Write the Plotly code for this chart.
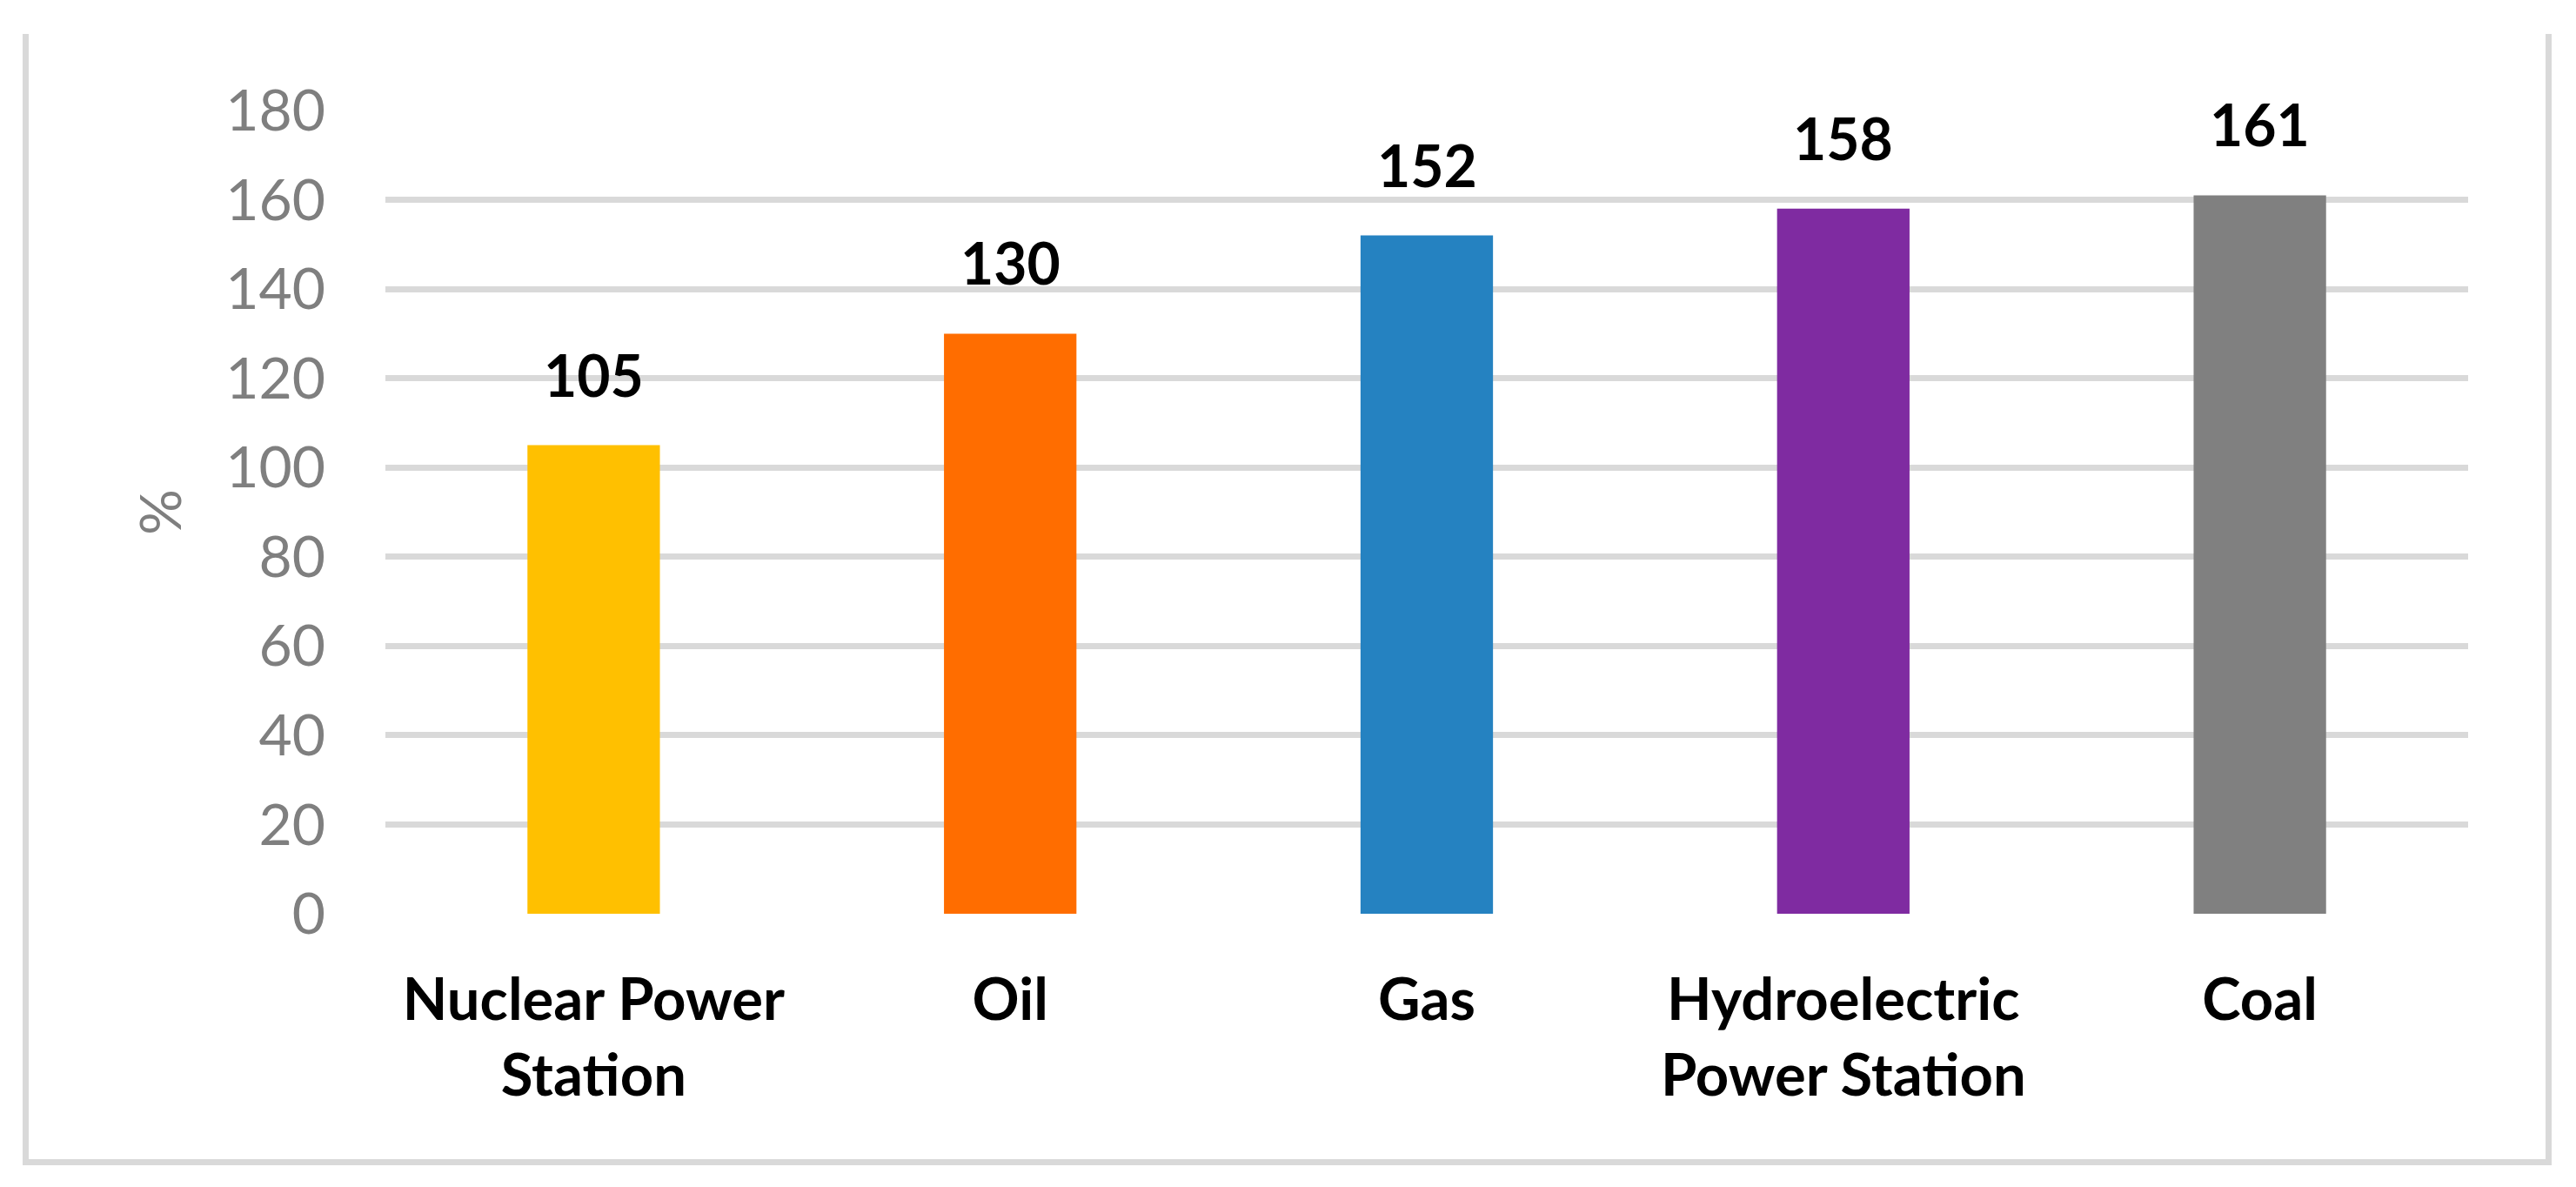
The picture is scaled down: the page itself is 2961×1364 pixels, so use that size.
import plotly.graph_objects as go

categories = ["Nuclear Power Station", "Oil", "Gas", "Hydroelectric Power Station", "Coal"]
tick_labels = ["Nuclear Power<br>Station", "Oil", "Gas", "Hydroelectric<br>Power Station", "Coal"]
values = [105, 130, 152, 158, 161]
bar_colors = ["#FFC000", "#FF6D00", "#2582C1", "#7F2BA1", "#808080"]
y_ticks = [0, 20, 40, 60, 80, 100, 120, 140, 160, 180]

W, H = 2961, 1364
L, R, T, B = 443, 2837, 127, 1050
FONT = "Lato"

fig = go.Figure()
fig.add_trace(go.Bar(
    x=categories, y=values, marker=dict(color=bar_colors, line=dict(width=0)),
    width=0.318, hoverinfo="skip", showlegend=False,
))

for c, v in zip(categories, values):
    fig.add_annotation(x=c, y=v, text=str(v), showarrow=False, yanchor="bottom",
                       yshift=40, font=dict(family=FONT, size=66, color="#000000", weight="bold"))

def px(X):
    return (X - L) / (R - L)

def py(Y):
    return (B - Y) / (B - T)

fig.add_shape(type="path", xref="paper", yref="paper",
              path=f"M {px(29.5)},{py(39)} L {px(29.5)},{py(1335.5)} L {px(2929.5)},{py(1335.5)} L {px(2929.5)},{py(39)}",
              line=dict(color="#D9D9D9", width=7), layer="below")

fig.update_layout(
    width=W, height=H,
    margin=dict(l=L, r=W - R, t=T, b=H - B, pad=0),
    paper_bgcolor="white", plot_bgcolor="white",
    bargap=0.682,
    xaxis=dict(
        tickmode="array", tickvals=categories, ticktext=tick_labels,
        tickfont=dict(family=FONT, size=67, color="#000000", weight="bold"),
        showgrid=False, zeroline=False, showline=False, ticks="",
        ticklabelstandoff=54,
    ),
    yaxis=dict(
        range=[0, 180], tickmode="array", tickvals=y_ticks,
        tickfont=dict(family=FONT, size=66, color="#7F7F7F"),
        showgrid=True, gridcolor="#D9D9D9", gridwidth=7,
        zeroline=False, showline=False, ticks="",
        ticklabelstandoff=68,
        title=dict(text="%", font=dict(family=FONT, size=66, color="#7F7F7F"), standoff=29),
    ),
)

fig.write_html("out.html", config={"displayModeBar": False, "staticPlot": True},
               post_script="document.body.style.margin='0';document.body.style.overflow='hidden';")
